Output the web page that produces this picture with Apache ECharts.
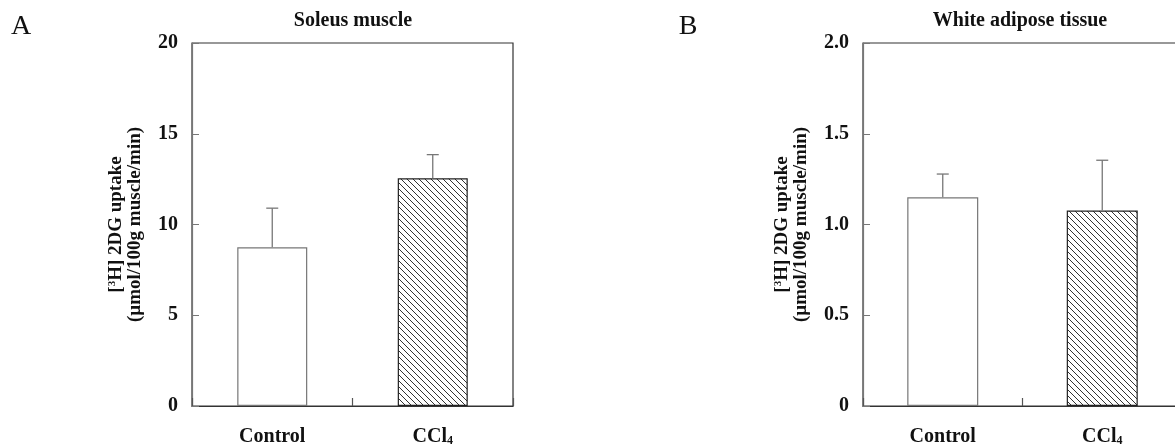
<!DOCTYPE html>
<html>
<head>
<meta charset="utf-8">
<script src="https://cdn.jsdelivr.net/npm/echarts@6/dist/echarts.min.js"></script>
<style>
  html, body { margin: 0; padding: 0; background: #fff; }
  #chart { width: 1175px; height: 444px; }
</style>
</head>
<body>
<div id="chart"></div>
<script>
// data
const categories = ["Control", "CCl4"];
const soleusMean = [8.75, 12.55];
const soleusSem = [2.15, 1.3];
const adiposeMean = [1.15, 1.077];
const adiposeSem = [0.128, 0.277];
const soleusTicks = [0, 20, 5];
const adiposeTicks = [0, 2, 0.5];

const FONT = "'Liberation Serif', 'Times New Roman', serif";

// hatch "\\\\" pattern for the CCl4 bar
function hatch() {
	const c = document.createElement("canvas");
	const s = 6;
	c.width = s;
	c.height = s;
	const ctx = c.getContext("2d");
	ctx.fillStyle = "#fff";
	ctx.fillRect(0, 0, s, s);
	ctx.strokeStyle = "#333";
	ctx.lineWidth = 1;
	ctx.beginPath();
	ctx.moveTo(-1, -1);
	ctx.lineTo(s + 1, s + 1);
	ctx.moveTo(-1, s - 1);
	ctx.lineTo(1, s + 1);
	ctx.moveTo(s - 1, -1);
	ctx.lineTo(s + 1, 1);
	ctx.stroke();
	return {image: c, repeat: "repeat"};
}
const hatchFill = hatch();

function barData(means) {
	return means.map((v, i) => ({
		value: v,
		itemStyle: i === 0
			? {color: "#fff", borderColor: "#777", borderWidth: 1.2}
			: {color: hatchFill, borderColor: "#222", borderWidth: 1.2},
	}));
}

function errData(means, sems) {
	return means.map((v, i) => [i, v, v + sems[i]]);
}

function errSeries(idx, means, sems) {
	return {
		type: "custom",
		xAxisIndex: idx,
		yAxisIndex: idx,
		z: 5,
		encode: {x: 0, y: [1, 2]},
		data: errData(means, sems),
		renderItem: (params, api) => {
			const lo = api.coord([api.value(0), api.value(1)]);
			const hi = api.coord([api.value(0), api.value(2)]);
			const w = 6;
			return {
				type: "group",
				children: [
					{type: "line", shape: {x1: lo[0], y1: lo[1], x2: hi[0], y2: hi[1]}, style: {stroke: "#777", lineWidth: 1.3}},
					{type: "line", shape: {x1: hi[0] - w, y1: hi[1], x2: hi[0] + w, y2: hi[1]}, style: {stroke: "#777", lineWidth: 1.3}},
				],
			};
		},
	};
}

const labelRich = {
	b: {fontFamily: FONT, fontWeight: "bold", fontSize: 20, color: "#111"},
	s: {fontFamily: FONT, fontWeight: "bold", fontSize: 12, color: "#111", padding: [8, 0, 0, 0]},
};

function xAxis(idx) {
	return {
		type: "category",
		gridIndex: idx,
		data: categories,
		axisLine: {lineStyle: {color: "#333", width: 1.2}},
		axisTick: {show: true, inside: true, alignWithLabel: false, interval: 0, length: 8, lineStyle: {color: "#555", width: 1.2}},
		axisLabel: {
			margin: 21,
			formatter: (v) => (v === "CCl4" ? "{b|CCl}{s|4}" : "{b|" + v + "}"),
			rich: labelRich,
		},
	};
}

const nameRich = {
	b: {fontFamily: FONT, fontWeight: "bold", fontSize: 19, color: "#111", lineHeight: 19},
	sup: {fontFamily: FONT, fontWeight: "bold", fontSize: 11, color: "#111", padding: [0, 0, 8, 0], lineHeight: 19},
};

function yAxis(idx, ticks, fmt, gap) {
	return {
		type: "value",
		gridIndex: idx,
		min: ticks[0],
		max: ticks[1],
		interval: ticks[2],
		splitLine: {show: false},
		axisLine: {show: true, lineStyle: {color: "#777", width: 1.2}},
		axisTick: {show: true, inside: true, length: 7, lineStyle: {color: "#777"}},
		axisLabel: {
			margin: 14,
			formatter: fmt,
			fontFamily: FONT,
			fontWeight: "bold",
			fontSize: 20,
			color: "#111",
		},
		name: "{b|[}{sup|3}{b|H] 2DG uptake}\n{b|(µmol/100g muscle/min)}",
		nameLocation: "middle",
		nameGap: gap,
		nameRotate: 90,
		nameTextStyle: {rich: nameRich},
	};
}

function text(x, y, str, size, weight) {
	return {
		type: "text",
		x: x,
		y: y,
		style: {
			text: str,
			font: weight + " " + size + "px " + FONT,
			fill: "#111",
			align: "center",
			textAlign: "center",
			verticalAlign: "middle",
			textVerticalAlign: "middle",
		},
	};
}

const chart = echarts.init(document.getElementById("chart"));
chart.setOption({
	animation: false,
	backgroundColor: "#fff",
	grid: [
		{left: 192, top: 43, width: 321, height: 363, outerBoundsMode: "none", containLabel: false, show: true, borderColor: "#333", borderWidth: 1.2, backgroundColor: "transparent"},
		{left: 863, top: 43, width: 319, height: 363, outerBoundsMode: "none", containLabel: false, show: true, borderColor: "#333", borderWidth: 1.2, backgroundColor: "transparent"},
	],
	xAxis: [xAxis(0), xAxis(1)],
	yAxis: [
		yAxis(0, soleusTicks, (v) => String(v), 47),
		yAxis(1, adiposeTicks, (v) => (v === 0 ? "0" : v.toFixed(1)), 52),
	],
	graphic: [
		text(21, 27, "A", 28, "normal"),
		text(688, 27, "B", 28, "normal"),
		text(353, 21, "Soleus muscle", 20, "bold"),
		text(1020, 21, "White adipose tissue", 20, "bold"),
	],
	series: [
		{type: "bar", xAxisIndex: 0, yAxisIndex: 0, barWidth: 70, data: barData(soleusMean)},
		errSeries(0, soleusMean, soleusSem),
		{type: "bar", xAxisIndex: 1, yAxisIndex: 1, barWidth: 71, data: barData(adiposeMean)},
		errSeries(1, adiposeMean, adiposeSem),
	],
});
</script>
</body>
</html>
